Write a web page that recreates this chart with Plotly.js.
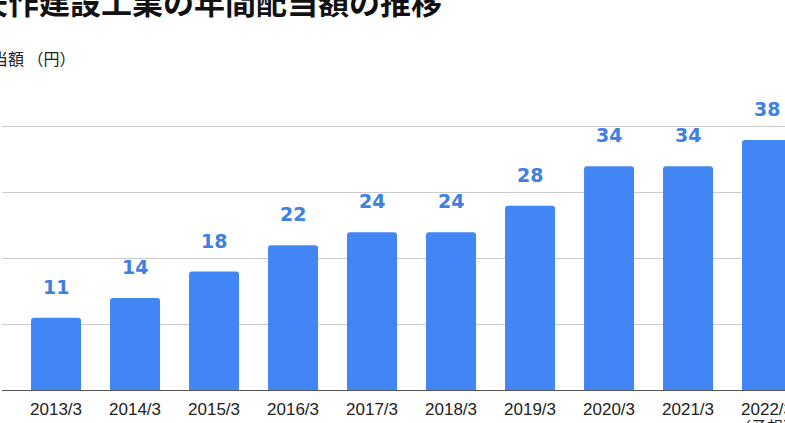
<!DOCTYPE html>
<html>
<head>
<meta charset="utf-8">
<script src="https://cdn.plot.ly/plotly-3.0.1.min.js"></script>
<style>
html,body{margin:0;padding:0;overflow:hidden;background:#fff;width:785px;height:423px;}
#chart{position:absolute;left:-100px;top:-20px;width:1000px;height:460px;}
</style>
</head>
<body>
<div id="chart"></div>
<script>
const categories = ["2013/3","2014/3","2015/3","2016/3","2017/3","2018/3","2019/3","2020/3","2021/3","2022/3"];
const dividends = [11,14,18,22,24,24,28,34,34,38];
const forecastCategory = "2022/3";
const forecastNote = "（予想）";
const titleText = "矢作建設工業の年間配当額の推移";
const yLabelText = "配当額 （円）";

const W = 1000, H = 460, ML = 102, MT = 114, MB = 50, MR = 0;
const plotW = W - ML - MR;
const px = x => (x - ML) / plotW;           // div px -> paper x
const py = y => 1 - (y - MT) / (H - MT - MB); // div px -> paper y

const annotations = categories.map((c, i) => ({
  x: c, y: dividends[i], xref: 'x', yref: 'y',
  text: String(dividends[i]), showarrow: false,
  yanchor: 'middle', yshift: 31,
  font: {family: 'DejaVu Sans', size: 19, color: '#4080e0', weight: 'bold'}
}));
annotations.push({
  x: forecastCategory, y: 0, xref: 'x', yref: 'paper',
  text: forecastNote, showarrow: false, yanchor: 'middle', yshift: -36,
  font: {family: 'Noto Sans CJK JP', size: 16, color: '#222'}
});
annotations.push({
  xref: 'paper', yref: 'paper', x: px(75), y: py(21), xanchor: 'left', yanchor: 'middle',
  text: '<b>' + titleText + '</b>', showarrow: false,
  font: {family: 'Noto Sans CJK JP', size: 31, color: '#111'}
});
annotations.push({
  xref: 'paper', yref: 'paper', x: px(74), y: py(78), xanchor: 'left', yanchor: 'middle',
  text: yLabelText, showarrow: false,
  font: {family: 'Noto Sans CJK JP', size: 16, color: '#222'}
});

const trace = {
  type: 'bar', x: categories, y: dividends,
  marker: {color: '#4285f4', cornerradius: 3},
  hoverinfo: 'none'
};

const layout = {
  width: W, height: H,
  margin: {l: ML, r: MR, t: MT, b: MB, pad: 0},
  paper_bgcolor: '#fff', plot_bgcolor: '#fff',
  showlegend: false,
  bargap: 0.367,
  xaxis: {
    type: 'category', range: [-0.684, -0.684 + plotW / 79],
    showgrid: false, zeroline: false,
    showline: true, linecolor: '#555', linewidth: 1,
    ticks: '', ticklabelstandoff: 4,
    tickfont: {family: 'Liberation Sans', size: 17, color: '#222'}
  },
  yaxis: {
    range: [0, 45], dtick: 10, tick0: 0,
    showgrid: true, gridcolor: '#cccccc', gridwidth: 1,
    zeroline: false, showticklabels: false, ticks: ''
  },
  annotations: annotations
};

Plotly.newPlot('chart', [trace], layout, {staticPlot: true, displayModeBar: false});
</script>
</body>
</html>
